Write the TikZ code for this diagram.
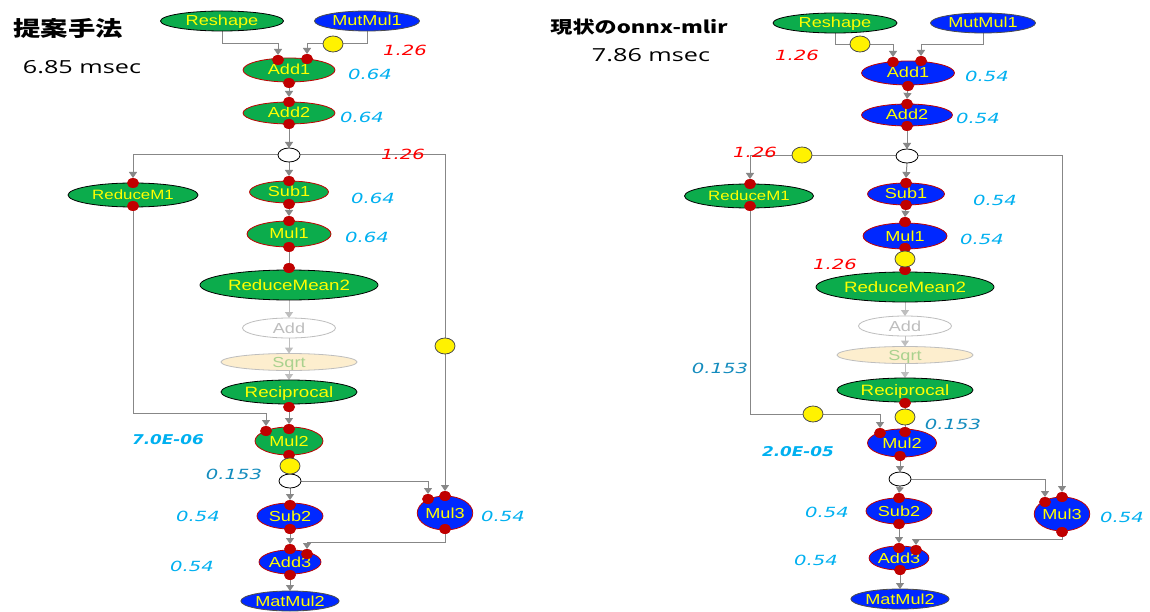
\documentclass[tikz,border=0pt]{standalone}
\usepackage{graphicx}
\usepackage{fontspec}
\setmainfont{Liberation Sans}
\newfontfamily\jpfont{Noto Sans CJK JP}
\newfontfamily\lblfont{DejaVu Sans}
\newfontfamily\timefont{Open Sans}
\usetikzlibrary{shapes.geometric,arrows.meta}
\pgfdeclarelayer{bg}
\pgfdeclarelayer{paper}
\pgfsetlayers{paper,bg,main}

% horizontally widened text
\newcommand{\wx}[2][1.25]{\scalebox{#1}[1]{#2}}

\definecolor{gfill}{RGB}{12,172,76}
\definecolor{bfill}{RGB}{0,40,255}
\definecolor{ylw}{RGB}{255,255,0}
\definecolor{dred}{RGB}{192,0,0}
\definecolor{cyanlbl}{RGB}{0,176,240}
\definecolor{teallbl}{RGB}{20,140,190}
\definecolor{redlbl}{RGB}{255,0,0}
\definecolor{egray}{RGB}{135,135,135}
\definecolor{lgray}{RGB}{190,190,190}
\definecolor{sqrtfill}{RGB}{253,238,206}
\definecolor{sqrttext}{RGB}{169,209,142}

\tikzset{
  op/.style={ellipse, inner sep=0pt, outer sep=0pt, text height=10pt, text depth=0pt,
    font=\fontsize{14.5}{14.5}\selectfont, text=ylw, line width=0.8pt},
  gop/.style={op, fill=gfill, draw=black},
  grop/.style={op, fill=gfill, draw=dred},
  bop/.style={op, fill=bfill, draw=dred},
  bkop/.style={op, fill=bfill, draw=black!70},
  ghostop/.style={op, fill=white, draw=lgray, text=lgray},
  sqrtop/.style={op, fill=sqrtfill, draw=lgray, text=sqrttext},
  port/.style={ellipse, fill=dred, inner sep=0pt, outer sep=0pt, minimum width=12pt, minimum height=10pt},
  jn/.style={ellipse, draw=black, fill=white, inner sep=0pt, outer sep=0pt, minimum width=22pt, minimum height=14pt, line width=0.8pt},
  ycirc/.style={ellipse, draw=black!70, fill=yellow, inner sep=0pt, minimum width=20pt, minimum height=16pt, line width=0.8pt},
  ln/.style={draw=egray, line width=1pt},
  arr/.style={ln, -{Triangle[width=8pt,length=6pt]}},
  larr/.style={draw=lgray, line width=1pt, -{Triangle[width=8pt,length=6pt]}},
  lbl/.style={font=\lblfont\itshape\fontsize{14}{14}\selectfont, text=cyanlbl},
  rlbl/.style={lbl, text=redlbl},
  tlbl/.style={lbl, text=teallbl},
  blbl/.style={font=\lblfont\bfseries\itshape\fontsize{13.5}{14}\selectfont, text=cyanlbl},
  ttl/.style={font=\jpfont\bfseries\fontsize{21}{21}\selectfont},
  tms/.style={font=\timefont\fontsize{18}{18}\selectfont},
}

\begin{document}
\begin{tikzpicture}[x=1pt,y=-1pt]
\begin{pgfonlayer}{paper}
\fill[white] (0,0) rectangle (1150,612);
\end{pgfonlayer}
\useasboundingbox (0,0) rectangle (1150,612);

% ================= left graph =================
\node[ttl] (Ltitle) at (68,28) {\wx[1.3]{提案手法}};
\node[tms] (Ltime) at (82,67) {\wx[1.4]{6.85 msec}};

\node[gop, minimum width=123, minimum height=20] (Lresh) at (222,21) {\wx{Reshape}};
\node[bkop, minimum width=105, minimum height=20] (Lmm1) at (367,21) {\wx{MutMul1}};
\node[grop, minimum width=92, minimum height=24] (Ladd1) at (289,70) {\wx{Add1}};
\node[grop, minimum width=92, minimum height=22] (Ladd2) at (289,113) {\wx{Add2}};
\node[jn] (Lj1) at (289,155) {};
\node[gop, minimum width=130, minimum height=24, font=\fontsize{13.5}{13.5}\selectfont] (Lrm1) at (133,195) {\wx{ReduceM1}};
\node[grop, minimum width=79, minimum height=22] (Lsub1) at (289,192) {\wx{Sub1}};
\node[grop, minimum width=84, minimum height=26] (Lmul1) at (289,234) {\wx{Mul1}};
\node[gop, minimum width=178, minimum height=30, font=\fontsize{15}{15}\selectfont] (Lrm2) at (289,285) {\wx{ReduceMean2}};
\node[ghostop, minimum width=93, minimum height=20] (Ladd) at (289,328) {\wx{Add}};
\node[sqrtop, minimum width=136, minimum height=17] (Lsqrt) at (289,362) {\wx{Sqrt}};
\node[gop, minimum width=136, minimum height=24, font=\fontsize{15}{15}\selectfont] (Lrec) at (289,392) {\wx{Reciprocal}};
\node[grop, minimum width=68, minimum height=28] (Lmul2) at (289,441) {\wx{Mul2}};
\node[jn] (Lj2) at (290,481) {};
\node[bop, minimum width=66, minimum height=26] (Lsub2) at (290,516) {\wx{Sub2}};
\node[bop, minimum width=54, minimum height=34] (Lmul3) at (445,513) {\wx{Mul3}};
\node[bop, minimum width=62, minimum height=24] (Ladd3) at (290,562) {\wx{Add3}};
\node[bkop, minimum width=93, minimum height=20] (Lmat) at (290,601) {\wx{MatMul2}};

% ports
\node[port] (LpA1a) at (278,60) {};
\node[port] (LpA1b) at (307,59) {};
\node[port] (LpA1o) at (289,83) {};
\node[port] (LpA2i) at (289,102) {};
\node[port] (LpA2o) at (289,124) {};
\node[port] (LpRM1i) at (133,183) {};
\node[port] (LpRM1o) at (133,206) {};
\node[port] (LpS1i) at (289,181) {};
\node[port] (LpS1o) at (289,204) {};
\node[port] (LpM1i) at (289,221) {};
\node[port] (LpM1o) at (289,247) {};
\node[port] (LpRM2i) at (289,268) {};
\node[port] (LpRECo) at (289,407) {};
\node[port] (LpM2a) at (266,431) {};
\node[port] (LpM2b) at (289,429) {};
\node[port] (LpM2o) at (289,455) {};
\node[port] (LpS2i) at (290,505) {};
\node[port] (LpS2o) at (290,529) {};
\node[port] (LpM3a) at (428,499) {};
\node[port] (LpM3b) at (445,496) {};
\node[port] (LpM3o) at (445,529) {};
\node[port] (LpA3a) at (290,549) {};
\node[port] (LpA3b) at (307,554) {};
\node[port] (LpA3o) at (290,575) {};

% yellow markers
\node[ycirc] (Ly1) at (333,44) {};
\node[ycirc] (Ly2) at (445,346) {};
\node[ycirc] (Ly3) at (290,466) {};

\begin{pgfonlayer}{bg}
\draw[arr] (Lresh.south) -- ++(0,13) -| (LpA1a.north);
\draw[arr] (Lmm1.south) -- ++(0,13) -| (LpA1b.north);
\draw[arr] (LpA1o) -- (LpA2i.north);
\draw[arr] (LpA2o) -- (Lj1.north);
\draw[arr] (Lj1.west) -| (LpRM1i.north);
\draw[arr] (Lj1.east) -| (LpM3b.north);
\draw[arr] (Lj1.south) -- (LpS1i.north);
\draw[arr] (LpS1o) -- (LpM1i.north);
\draw[ln] (LpM1o) -- (LpRM2i);
\draw[larr] (Lrm2.south) -- (Ladd.north);
\draw[larr] (Ladd.south) -- (Lsqrt.north);
\draw[larr] (Lsqrt.south) -- (Lrec.north);
\draw[arr] (LpRECo) -- (LpM2b.north);
\draw[arr] (LpRM1o) |- ([yshift=18pt]LpM2a.center) -- (LpM2a.north);
\draw[ln] (LpM2o) -- (Lj2.north);
\draw[arr] (Lj2.south) -- (LpS2i.north);
\draw[arr] (Lj2.east) -| (LpM3a.north);
\draw[arr] (LpS2o) -- (LpA3a.north);
\draw[arr] (LpM3o) |- ([yshift=12pt]LpA3b.center) -- (LpA3b.north);
\draw[arr] (LpA3o) -- (Lmat.north);
\end{pgfonlayer}

% timings
\node[rlbl] (Lt1) at (405,50) {\wx[1.4]{1.26}};
\node[lbl] (Lt2) at (370,74) {\wx[1.4]{0.64}};
\node[lbl] (Lt3) at (362,117) {\wx[1.4]{0.64}};
\node[rlbl] (Lt4) at (403,154) {\wx[1.4]{1.26}};
\node[lbl] (Lt5) at (373,198) {\wx[1.4]{0.64}};
\node[lbl] (Lt6) at (367,237) {\wx[1.4]{0.64}};
\node[blbl] (Lt7) at (168,440) {\wx[1.25]{7.0E-06}};
\node[tlbl] (Lt8) at (234,474) {\wx[1.4]{0.153}};
\node[lbl] (Lt9) at (198,516) {\wx[1.4]{0.54}};
\node[lbl] (Lt10) at (503,516) {\wx[1.4]{0.54}};
\node[lbl] (Lt11) at (192,566) {\wx[1.4]{0.54}};

% ================= right graph =================
\node[ttl, font=\jpfont\bfseries\fontsize{17}{17}\selectfont] (Rtitle) at (639,27) {\wx[1.3]{現状のonnx-mlir}};
\node[tms] (Rtime) at (651,55) {\wx[1.4]{7.86 msec}};

\node[gop, minimum width=124, minimum height=20] (Rresh) at (835,23) {\wx{Reshape}};
\node[bkop, minimum width=105, minimum height=20] (Rmm1) at (983,23) {\wx{MutMul1}};
\node[bop, minimum width=93, minimum height=24] (Radd1) at (908,73) {\wx{Add1}};
\node[bop, minimum width=91, minimum height=22] (Radd2) at (907,115) {\wx{Add2}};
\node[jn] (Rj1) at (907,156) {};
\node[gop, minimum width=129, minimum height=24, font=\fontsize{13.5}{13.5}\selectfont] (Rrm1) at (749,196) {\wx{ReduceM1}};
\node[bop, minimum width=77, minimum height=22] (Rsub1) at (906,194) {\wx{Sub1}};
\node[bop, minimum width=84, minimum height=26] (Rmul1) at (905,236) {\wx{Mul1}};
\node[gop, minimum width=178, minimum height=30, font=\fontsize{15}{15}\selectfont] (Rrm2) at (905,287) {\wx{ReduceMean2}};
\node[ghostop, minimum width=93, minimum height=20] (Radd) at (905,326) {\wx{Add}};
\node[sqrtop, minimum width=136, minimum height=17] (Rsqrt) at (905,355) {\wx{Sqrt}};
\node[gop, minimum width=136, minimum height=24, font=\fontsize{15}{15}\selectfont] (Rrec) at (905,390) {\wx{Reciprocal}};
\node[bop, minimum width=69, minimum height=28] (Rmul2) at (902,443) {\wx{Mul2}};
\node[jn] (Rj2) at (900,479) {};
\node[bop, minimum width=66, minimum height=26] (Rsub2) at (899,511) {\wx{Sub2}};
\node[bop, minimum width=54, minimum height=34] (Rmul3) at (1062,514) {\wx{Mul3}};
\node[bop, minimum width=59, minimum height=24] (Radd3) at (899,558) {\wx{Add3}};
\node[bkop, minimum width=92, minimum height=20] (Rmat) at (900,599) {\wx{MatMul2}};

% ports
\node[port] (RpA1a) at (893,62) {};
\node[port] (RpA1b) at (921,61) {};
\node[port] (RpA1o) at (908,86) {};
\node[port] (RpA2i) at (907,104) {};
\node[port] (RpA2o) at (907,126) {};
\node[port] (RpRM1i) at (750,184) {};
\node[port] (RpRM1o) at (750,206) {};
\node[port] (RpS1i) at (906,183) {};
\node[port] (RpS1o) at (906,205) {};
\node[port] (RpM1i) at (905,222) {};
\node[port] (RpM1o) at (905,248) {};
\node[port] (RpRM2i) at (905,270) {};
\node[port] (RpRECo) at (905,403) {};
\node[port] (RpM2a) at (880,433) {};
\node[port] (RpM2b) at (905,432) {};
\node[port] (RpM2o) at (900,456) {};
\node[port] (RpS2i) at (899,498) {};
\node[port] (RpS2o) at (899,524) {};
\node[port] (RpM3a) at (1045,502) {};
\node[port] (RpM3b) at (1062,497) {};
\node[port] (RpM3o) at (1062,532) {};
\node[port] (RpA3a) at (899,548) {};
\node[port] (RpA3b) at (916,550) {};
\node[port] (RpA3o) at (900,570) {};

% yellow markers
\node[ycirc] (Ry1) at (860,44) {};
\node[ycirc] (Ry4) at (802,155) {};
\node[ycirc] (Ry2) at (905,259) {};
\node[ycirc] (Ry3) at (905,417) {};
\node[ycirc] (Ry5) at (813,414) {};

\begin{pgfonlayer}{bg}
\draw[arr] (Rresh.south) -- ++(0,12) -| (RpA1a.north);
\draw[arr] (Rmm1.south) -- ++(0,12) -| (RpA1b.north);
\draw[arr] (RpA1o) -- (RpA2i.north);
\draw[arr] (RpA2o) -- (Rj1.north);
\draw[arr] (Rj1.west) -| (RpRM1i.north);
\draw[arr] (Rj1.east) -| (RpM3b.north);
\draw[arr] (Rj1.south) -- (RpS1i.north);
\draw[arr] (RpS1o) -- (RpM1i.north);
\draw[ln] (RpM1o) -- (RpRM2i);
\draw[larr] (Rrm2.south) -- (Radd.north);
\draw[larr] (Radd.south) -- (Rsqrt.north);
\draw[larr] (Rsqrt.south) -- (Rrec.north);
\draw[ln] (RpRECo) -- (RpM2b);
\draw[arr] (RpRM1o) |- ([yshift=19pt]RpM2a.center) -- (RpM2a.north);
\draw[arr] (RpM2o) -- (Rj2.north);
\draw[arr] (Rj2.south) -- (RpS2i.north);
\draw[arr] (Rj2.east) -| (RpM3a.north);
\draw[arr] (RpS2o) -- (RpA3a.north);
\draw[arr] (RpM3o) |- ([yshift=11pt]RpA3b.center) -- (RpA3b.north);
\draw[arr] (RpA3o) -- (Rmat.north);
\end{pgfonlayer}

% timings
\node[rlbl] (Rt1) at (797,55) {\wx[1.4]{1.26}};
\node[lbl] (Rt2) at (987,76) {\wx[1.4]{0.54}};
\node[lbl] (Rt3) at (978,118) {\wx[1.4]{0.54}};
\node[rlbl] (Rt4) at (755,152) {\wx[1.4]{1.26}};
\node[lbl] (Rt5) at (995,200) {\wx[1.4]{0.54}};
\node[lbl] (Rt6) at (982,239) {\wx[1.4]{0.54}};
\node[rlbl] (Rt7) at (835,264) {\wx[1.4]{1.26}};
\node[tlbl] (Rt8) at (720,368) {\wx[1.4]{0.153}};
\node[tlbl] (Rt9) at (953,424) {\wx[1.4]{0.153}};
\node[blbl] (Rt10) at (798,452) {\wx[1.25]{2.0E-05}};
\node[lbl] (Rt11) at (827,512) {\wx[1.4]{0.54}};
\node[lbl] (Rt12) at (1122,517) {\wx[1.4]{0.54}};
\node[lbl] (Rt13) at (816,560) {\wx[1.4]{0.54}};
\end{tikzpicture}
\end{document}
